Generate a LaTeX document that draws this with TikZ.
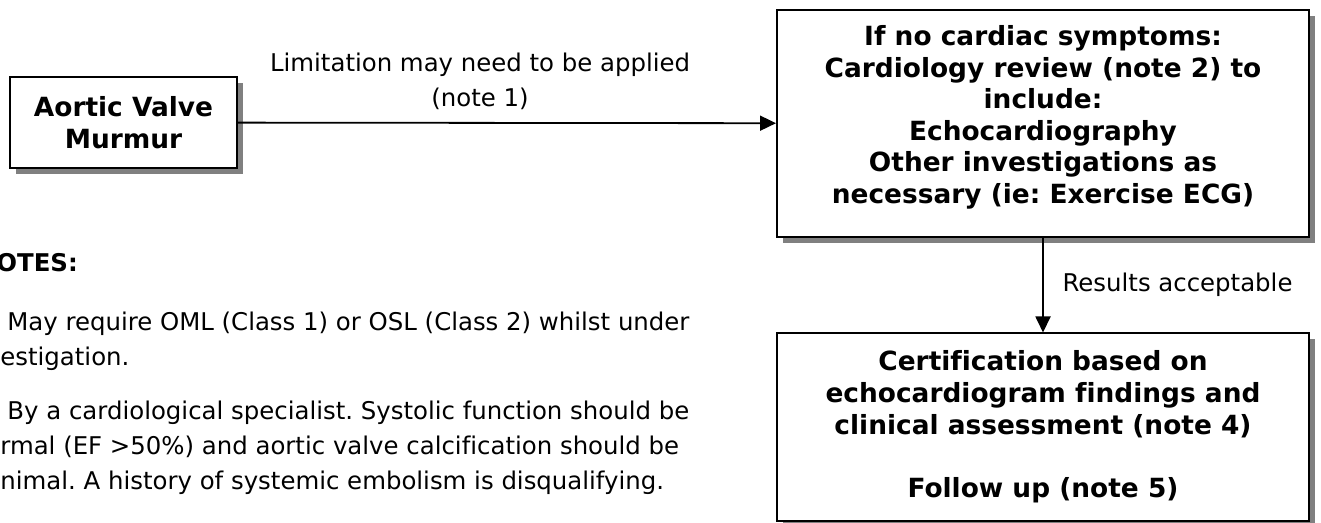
\documentclass[tikz,border=0pt]{standalone}
\usepackage{fontspec}
\setmainfont[Ligatures=NoCommon]{DejaVu Sans}
\usetikzlibrary{positioning,shadows,arrows.meta}
\frenchspacing

\newcommand{\boxfont}{\fontsize{13.2}{15.8}\selectfont}
\newcommand{\notefont}{\fontsize{12.2}{17.5}\selectfont}

\tikzset{
  flowbox/.style={draw,line width=1pt,fill=white,align=center,
    font=\boxfont\bfseries,inner sep=0pt,
    drop shadow={shadow xshift=3pt,shadow yshift=-3pt,fill=gray,opacity=1}},
  flowline/.style={-{Triangle[length=8pt,width=7.5pt]},line width=0.9pt},
  notetext/.style={align=left,anchor=north west,inner sep=0pt,font=\notefont}
}

\begin{document}
\begin{tikzpicture}[x=0.5pt,y=-0.5pt]
  \useasboundingbox (0,0) rectangle (1321,523);

  \node[flowbox,minimum width=113.5pt,minimum height=45.5pt] (murmur) at (123.5,122.5)
    {Aortic Valve\\Murmur};
  \node[flowbox,minimum width=266pt,minimum height=113.5pt,text depth=9pt] (review) at (1043,123.5)
    {If no cardiac symptoms:\\Cardiology review (note 2) to\\include:\\Echocardiography\\
     Other investigations as\\necessary (ie: Exercise ECG)};
  \node[flowbox,minimum width=266pt,minimum height=93.5pt] (certify) at (1043,427)
    {Certification based on\\echocardiogram findings and\\clinical assessment (note 4)\\[16pt]
     Follow up (note 5)};

  \draw[flowline] (murmur) -- node[pos=0.45,above=3pt,align=center,font=\notefont]
    {Limitation may need to be applied\\(note 1)} (review);
  \draw[flowline] (review) -- node[right=6pt,font=\notefont] {Results acceptable} (certify);

  % notes
  \node[notetext,font=\notefont\bfseries] (notes) at (-4,253) {OTES:};
  \node[notetext] (note1) at (0,312) {\hspace{3.5pt}May require OML (Class 1) or OSL (Class 2) whilst under\\estigation.};
  \node[notetext] (note2) at (0,401) {\hspace{3.5pt}By a cardiological specialist. Systolic function should be\\rmal (EF >50\%) and aortic valve calcification should be\\nimal. A history of systemic embolism is disqualifying.};
\end{tikzpicture}
\end{document}
